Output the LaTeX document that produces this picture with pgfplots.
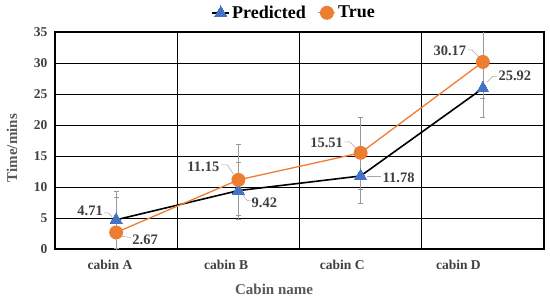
\documentclass[border=0pt]{standalone}
\usepackage{pgfplots}
\pgfplotsset{compat=1.18}
\usepackage{fontspec}
\setmainfont{Liberation Serif}

\definecolor{predblue}{HTML}{4472C4}
\definecolor{trueorange}{HTML}{ED7D31}
\definecolor{txtgray}{HTML}{404040}
\definecolor{ttlgray}{HTML}{595959}

\pgfplotstableread{
x  pred  perr  true  terr
0  4.71  4.6   2.67  5.7
1  9.42  4.6   11.15 5.7
2  11.78 4.4   15.51 5.8
3  25.92 4.6   30.17 5.9
}\cabins

\begin{document}
\begin{tikzpicture}
\begin{axis}[
    scale only axis,
    width=489pt,
    height=217pt,
    xmin=-0.5, xmax=3.5,
    ymin=0, ymax=35,
    xtick={-0.05,0.9,1.85,2.8},
    xticklabels={cabin A,cabin B,cabin C,cabin D},
    minor xtick={0.5,1.5,2.5},
    ytick={0,5,...,35},
    ymajorgrids=true,
    xminorgrids=true,
    major tick length=0pt,
    minor tick length=0pt,
    grid style={black, line width=0.7pt},
    minor grid style={black, line width=0.7pt},
    axis line style={black, line width=1.4pt},
    /pgf/number format/assume math mode=true,
    tick label style={font=\bfseries\fontsize{13.5}{15}\selectfont, text=txtgray},
    yticklabel style={xshift=-4pt},
    xticklabel style={yshift=-8pt},
    xlabel={Cabin name},
    ylabel={Time/mins},
    label style={font=\bfseries\fontsize{15}{17}\selectfont, text=ttlgray},
    xlabel style={at={([yshift=-40pt]axis description cs:0.448,0)}, anchor=center},
    ylabel style={at={([xshift=-43pt]axis description cs:0,0.465)}, anchor=center},
    legend columns=2,
    legend style={draw=none, fill=none, at={(0.489,1)}, anchor=south, yshift=8pt,
        font=\bfseries\fontsize{18}{19}\selectfont, text=black,
        /tikz/every even column/.append style={column sep=10pt}},
    error bars/error bar style={gray!80, line width=0.5pt},
    error bars/error mark options={gray!80, rotate=90, mark size=2.5pt, line width=0.5pt},
]
\addplot[black, line width=1.6pt, mark=triangle*, mark size=7pt,
    mark options={fill=predblue, draw=predblue, line width=0pt},
    error bars/.cd, y dir=both, y explicit]
    table[x=x, y=pred, y error=perr] {\cabins};
\addlegendentry{Predicted}
\addplot[trueorange, line width=1.3pt, mark=*, mark size=6.3pt,
    mark options={fill=trueorange, draw=trueorange},
    error bars/.cd, y dir=both, y explicit]
    table[x=x, y=true, y error=terr] {\cabins};
\addlegendentry{True}

% data labels with leader lines
\tikzset{dl/.style={font=\bfseries\fontsize{14.5}{16}\selectfont, text=txtgray, inner sep=0pt},
         ld/.style={gray!70, line width=0.5pt}}
% Predicted
\node[dl] at ([shift={(-26pt,9pt)}]axis cs:0,4.71) {4.71};
\draw[ld] ([shift={(-12pt,7pt)}]axis cs:0,4.71) -- ([shift={(-8pt,7pt)}]axis cs:0,4.71) -- ([shift={(-4pt,3pt)}]axis cs:0,4.71);
\node[dl] at ([shift={(26pt,-12pt)}]axis cs:1,9.42) {9.42};
\draw[ld] ([shift={(4pt,-4pt)}]axis cs:1,9.42) -- ([shift={(9pt,-10pt)}]axis cs:1,9.42) -- ([shift={(12pt,-10pt)}]axis cs:1,9.42);
\node[dl] at ([shift={(38pt,-2pt)}]axis cs:2,11.78) {11.78};
\draw[ld] ([shift={(6pt,0pt)}]axis cs:2,11.78) -- ([shift={(20pt,0pt)}]axis cs:2,11.78);
\node[dl] at ([shift={(32pt,12pt)}]axis cs:3,25.92) {25.92};
\draw[ld] ([shift={(4pt,6pt)}]axis cs:3,25.92) -- ([shift={(10pt,12pt)}]axis cs:3,25.92) -- ([shift={(14pt,12pt)}]axis cs:3,25.92);
% True
\node[dl] at ([shift={(29pt,-7pt)}]axis cs:0,2.67) {2.67};
\draw[ld] ([shift={(6pt,-4pt)}]axis cs:0,2.67) -- ([shift={(15pt,-5pt)}]axis cs:0,2.67);
\node[dl] at ([shift={(-35pt,13pt)}]axis cs:1,11.15) {11.15};
\draw[ld] ([shift={(-17pt,15pt)}]axis cs:1,11.15) -- ([shift={(-11pt,15pt)}]axis cs:1,11.15) -- ([shift={(-5pt,6pt)}]axis cs:1,11.15);
\node[dl] at ([shift={(-34pt,10pt)}]axis cs:2,15.51) {15.51};
\draw[ld] ([shift={(-16pt,11pt)}]axis cs:2,15.51) -- ([shift={(-11pt,11pt)}]axis cs:2,15.51) -- ([shift={(-5pt,5pt)}]axis cs:2,15.51);
\node[dl] at ([shift={(-33pt,11pt)}]axis cs:3,30.17) {30.17};
\draw[ld] ([shift={(-15pt,12pt)}]axis cs:3,30.17) -- ([shift={(-11pt,12pt)}]axis cs:3,30.17) -- ([shift={(-4pt,5pt)}]axis cs:3,30.17);
\end{axis}
\pgfresetboundingbox
\path[use as bounding box] ([shift={(-55pt,-51pt)}]current axis.south west) rectangle ([shift={(6pt,32pt)}]current axis.north east);
\end{tikzpicture}
\end{document}
